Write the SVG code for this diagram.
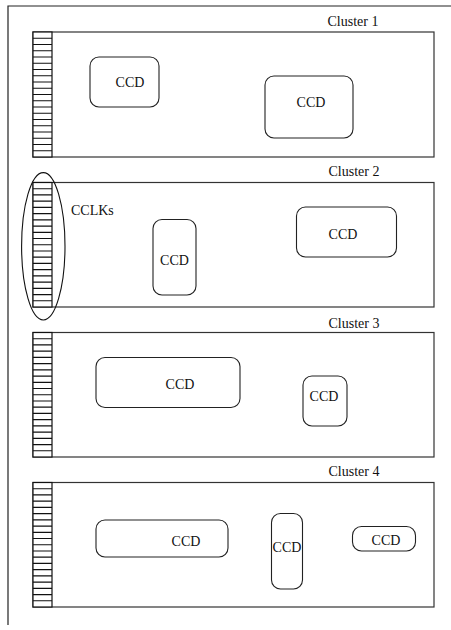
<svg xmlns="http://www.w3.org/2000/svg" width="451" height="630" viewBox="0 0 451 630">
<style>
.frame{fill:none;stroke:#222;stroke-width:1.2}
.cl{fill:none;stroke:#333;stroke-width:1.2}
.comb{fill:#fff;stroke:#111;stroke-width:1.2}
.ccd{fill:none;stroke:#222;stroke-width:1.1}
text{font-family:"Liberation Serif","Times New Roman",serif;font-size:14px;fill:#111}
.m{text-anchor:middle}
</style>
<defs>
<path id="combLines" d="M33,6.25H52M33,12.5H52M33,18.75H52M33,25H52M33,31.25H52M33,37.5H52M33,43.75H52M33,50H52M33,56.25H52M33,62.5H52M33,68.75H52M33,75H52M33,81.25H52M33,87.5H52M33,93.75H52M33,100H52M33,106.25H52M33,112.5H52M33,118.75H52" stroke="#111" stroke-width="1.2" fill="none"/>
</defs>
<g id="frame">
<path class="frame" d="M451,6H8V625"/>
</g>
<g id="cluster1">
<rect class="cl" x="33" y="32" width="401" height="125"/>
<rect class="comb" x="33" y="32" width="19" height="125"/>
<use href="#combLines" transform="translate(0,32)"/>
<text class="m" x="353" y="26">Cluster 1</text>
</g>
<g id="cluster2">
<rect class="cl" x="33" y="182.5" width="401" height="124.5"/>
<rect class="comb" x="33" y="182.5" width="19" height="124.5"/>
<use href="#combLines" transform="translate(0,182.5) scale(1,0.996)"/>
<text class="m" x="354" y="176">Cluster 2</text>
</g>
<g id="cluster3">
<rect class="cl" x="33" y="332.5" width="401" height="124.5"/>
<rect class="comb" x="33" y="332.5" width="19" height="124.5"/>
<use href="#combLines" transform="translate(0,332.5) scale(1,0.996)"/>
<text class="m" x="354" y="328">Cluster 3</text>
</g>
<g id="cluster4">
<rect class="cl" x="33" y="482.5" width="401" height="124.5"/>
<rect class="comb" x="33" y="482.5" width="19" height="124.5"/>
<use href="#combLines" transform="translate(0,482.5) scale(1,0.996)"/>
<text class="m" x="354" y="476">Cluster 4</text>
</g>
<g id="cclks">
<ellipse cx="43.3" cy="246.3" rx="21.7" ry="73.7" fill="none" stroke="#111" stroke-width="1.1"/>
<text x="71" y="215">CCLKs</text>
</g>
<g id="ccd1a"><rect class="ccd" x="90" y="57" width="69" height="50" rx="9"/><text class="m" x="130" y="87">CCD</text></g>
<g id="ccd1b"><rect class="ccd" x="265" y="76" width="88" height="62" rx="9"/><text class="m" x="311" y="107">CCD</text></g>
<g id="ccd2a"><rect class="ccd" x="153" y="219.5" width="43" height="75.5" rx="9"/><text class="m" x="174.5" y="265">CCD</text></g>
<g id="ccd2b"><rect class="ccd" x="296.5" y="207" width="100" height="50" rx="9"/><text class="m" x="343" y="239">CCD</text></g>
<g id="ccd3a"><rect class="ccd" x="96" y="357.5" width="144" height="50" rx="9"/><text class="m" x="180" y="389">CCD</text></g>
<g id="ccd3b"><rect class="ccd" x="303" y="376" width="44" height="50" rx="9"/><text class="m" x="324" y="401">CCD</text></g>
<g id="ccd4a"><rect class="ccd" x="96" y="520" width="132" height="37" rx="9"/><text class="m" x="186" y="545.5">CCD</text></g>
<g id="ccd4b"><rect class="ccd" x="271.5" y="513.5" width="31" height="75.5" rx="9"/><text class="m" x="287" y="552">CCD</text></g>
<g id="ccd4c"><rect class="ccd" x="352.5" y="526.5" width="63" height="24.5" rx="9"/><text class="m" x="386" y="545">CCD</text></g>
<g id="connectors"/>
</svg>
